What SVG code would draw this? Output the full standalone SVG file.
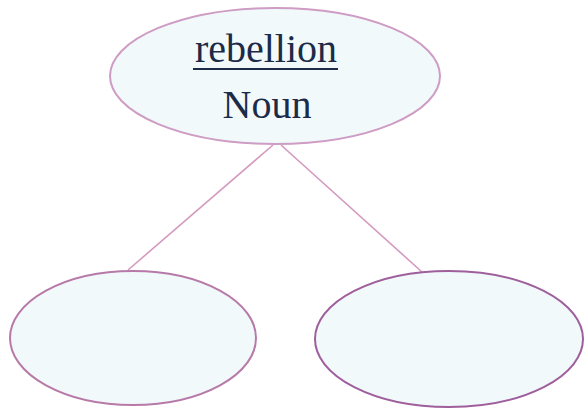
<svg xmlns="http://www.w3.org/2000/svg" width="585" height="411" viewBox="0 0 585 411">
<style>
.node{fill:#f1f9fb;stroke:#b77aa8;stroke-width:2}
.edge{stroke:#d49ac0;stroke-width:1.6;fill:none}
.lbl{font-family:"Liberation Serif","Times New Roman",serif;font-size:40px;fill:#1c2b48;text-anchor:middle}
</style>
<rect width="585" height="411" fill="#ffffff"/>
<g id="connectors">
<line class="edge" x1="273" y1="145" x2="128" y2="270"/>
<line class="edge" x1="281" y1="145" x2="422" y2="272"/>
</g>
<g id="node-root">
<ellipse class="node" cx="275" cy="76" rx="165" ry="68" style="stroke:#cf9cc4"/>
<text class="lbl" x="266" y="62">rebellion</text>
<line x1="193" y1="69" x2="338" y2="69" stroke="#1c2b48" stroke-width="1.8"/>
<text class="lbl" x="267" y="118">Noun</text>
</g>
<g id="node-left">
<ellipse class="node" cx="133" cy="338" rx="123" ry="67"/>
</g>
<g id="node-right">
<ellipse class="node" cx="449" cy="339" rx="134" ry="68" style="stroke:#9e5f9c"/>
</g>
</svg>
